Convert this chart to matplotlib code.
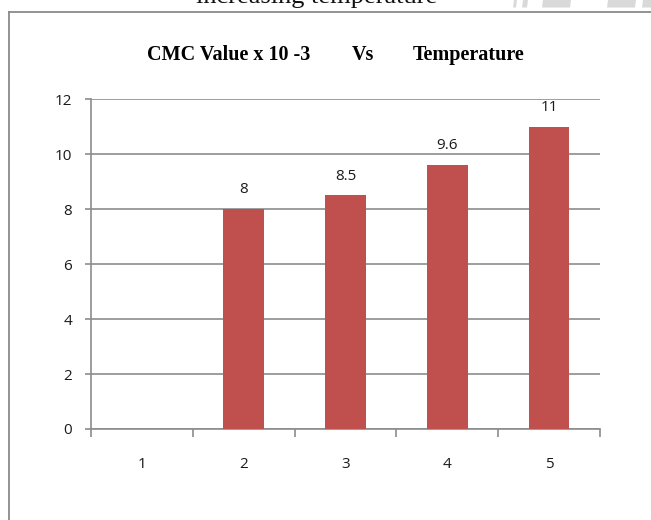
import numpy as np
import matplotlib
matplotlib.use("Agg")
import matplotlib.pyplot as plt
from matplotlib.lines import Line2D
from matplotlib.patches import Polygon

# CMC values (x 10^-3) for each temperature step
categories = [1, 2, 3, 4, 5]
cmc_values = [0, 8, 8.5, 9.6, 11]
value_labels = ["", "8", "8.5", "9.6", "11"]
y_ticks = [0, 2, 4, 6, 8, 10, 12]

W, H = 651, 520
fig = plt.figure(figsize=(W / 100, H / 100), dpi=100)
fig.patch.set_facecolor("white")

def fx(px):
    return px / W

def fy(py):
    return 1 - py / H

# caption text of the page, cut by the top edge
fig.text(fx(317), fy(3.5), "increasing temperature", ha="center", va="baseline",
         fontsize=19, family="Liberation Serif", color="#111111")

# faint grey stripes at the top right of the page
for x0, x1 in [(513, 516), (522, 527), (542, 570), (607, 635), (642, 660)]:
    fig.add_artist(Polygon([(fx(x0 + 1), fy(0)), (fx(x1 + 1), fy(0)),
                            (fx(x1), fy(7.5)), (fx(x0), fy(7.5))],
                           closed=True, transform=fig.transFigure,
                           facecolor="#d9d9d9", edgecolor="none"))

# chart frame (runs off the right and bottom edge)
frame_c = "#8a8a8a"
fig.add_artist(Line2D([fx(9), 1.0], [fy(12), fy(12)], color=frame_c, lw=1.3,
                      transform=fig.transFigure))
fig.add_artist(Line2D([fx(9), fx(9)], [fy(12), 0.0], color=frame_c, lw=1.3,
                      transform=fig.transFigure))

title_kw = dict(va="center", fontsize=14.5, fontweight="bold", family="Liberation Serif")
fig.text(fx(147), fy(55), "CMC Value x 10 -3", ha="left", **title_kw)
fig.text(fx(363), fy(55), "Vs", ha="center", **title_kw)
fig.text(fx(413), fy(55), "Temperature", ha="left", **title_kw)

ax = fig.add_axes([fx(91), fy(429), fx(600) - fx(91), fy(99.3) - fy(429)])
grid_c = "#8c8c8c"
txt_c = "#1a1a1a"
lbl_kw = dict(family="Open Sans", fontsize=11, color=txt_c)

bars = ax.bar(categories, cmc_values, width=0.4, color="#C0504D", zorder=3)
for rect, val, lab in zip(bars, cmc_values, value_labels):
    if lab:
        ax.annotate(lab, (rect.get_x() + rect.get_width() / 2, val),
                    xytext=(0, 14), textcoords="offset points",
                    ha="center", va="center", **lbl_kw)

ax.set_xlim(0.5, 5.5)
ax.set_ylim(0, 12)
ax.set_yticks(y_ticks)
ax.set_yticklabels([str(t) for t in y_ticks], **lbl_kw)
ax.set_xticks(categories)
ax.set_xticklabels([str(c) for c in categories], **lbl_kw)
ax.set_xticks(np.arange(0.5, 6.0, 1.0), minor=True)

ax.yaxis.grid(True, color=grid_c, lw=1.2, zorder=0)
ax.set_axisbelow(True)
for s in ["top", "right"]:
    ax.spines[s].set_visible(False)
for s in ["left", "bottom"]:
    ax.spines[s].set_color(grid_c)
    ax.spines[s].set_linewidth(1.2)

ax.tick_params(axis="y", length=4.5, width=1.2, color=grid_c, pad=9)
ax.tick_params(axis="x", which="major", length=0, pad=20)
ax.tick_params(axis="x", which="minor", length=6, width=1.2, color=grid_c)

fig.savefig("out.png", dpi=100)
